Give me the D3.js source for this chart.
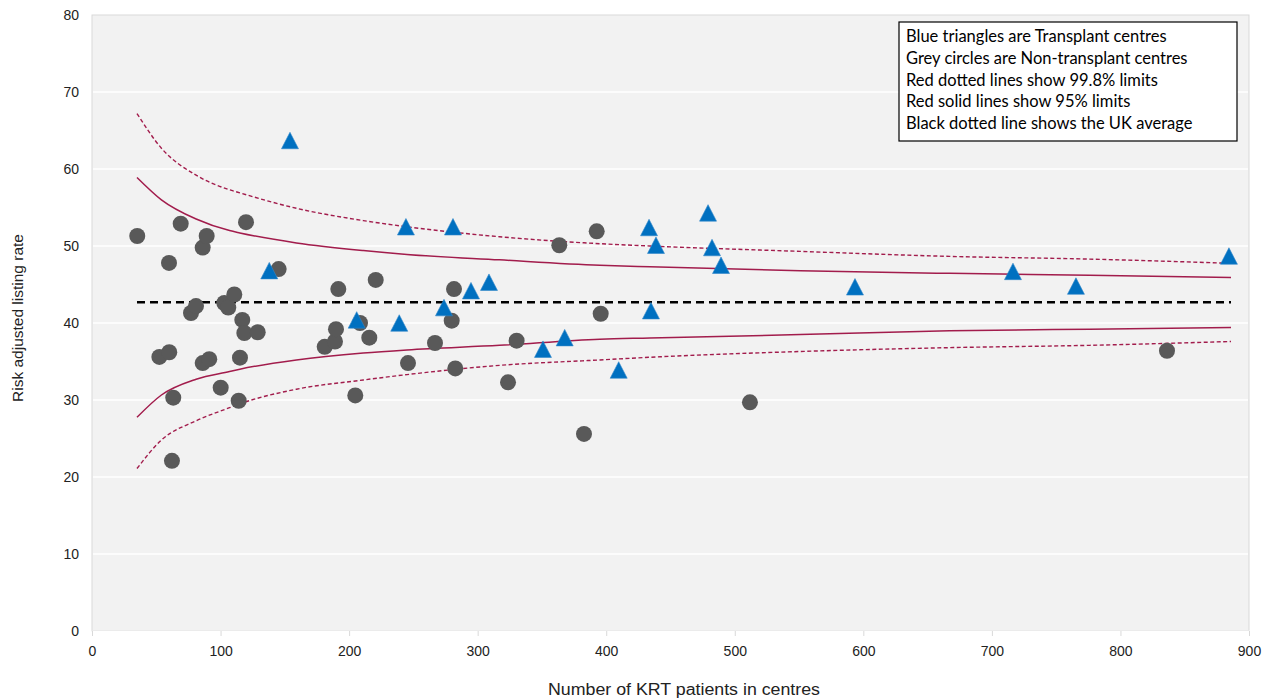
<!DOCTYPE html>
<html>
<head>
<meta charset="utf-8">
<script src="https://cdn.jsdelivr.net/npm/d3@7/dist/d3.min.js"></script>
<style>
  html, body { margin: 0; padding: 0; background: #ffffff; }
  svg { display: block; }
</style>
</head>
<body>
<svg id="chart" width="1271" height="699"></svg>
<script>
// Transplant centres (blue triangles): centre size and risk adjusted listing rate
const transplantN    = [137.9, 154.0, 205.9, 239.0, 244.2, 273.8, 280.8, 294.8, 308.8, 350.8, 367.7,
                        409.7, 433.3, 434.8, 438.7, 479.2, 482.3, 489.3, 593.5, 716.4, 765.4, 884.4];
const transplantRate = [46.8, 63.7, 40.4, 40.0, 52.5, 42.0, 52.5, 44.2, 45.3, 36.6, 38.1,
                        33.9, 52.4, 41.6, 50.1, 54.3, 49.8, 47.5, 44.7, 46.7, 44.8, 48.7];

// Non-transplant centres (grey circles)
const nonTransplantN    = [35.2, 52.4, 59.9, 60.1, 62.2, 63.2, 69.0, 77.0, 80.9, 86.1, 86.1, 89.2,
                           91.2, 100.1, 102.9, 106.0, 110.7, 114.1, 115.1, 116.9, 118.5, 119.8, 128.9,
                           145.2, 181.0, 189.0, 189.8, 191.6, 204.8, 208.5, 215.7, 220.7, 245.8,
                           266.8, 279.8, 281.6, 282.6, 323.6, 330.3, 363.5, 382.7, 392.6, 395.7,
                           511.8, 836.2];
const nonTransplantRate = [51.3, 35.6, 47.8, 36.2, 22.1, 30.3, 52.9, 41.3, 42.2, 49.8, 34.8, 51.3,
                           35.3, 31.6, 42.6, 42.0, 43.7, 29.9, 35.5, 40.4, 38.7, 53.1, 38.8,
                           47.0, 36.9, 37.6, 39.2, 44.4, 30.6, 40.0, 38.1, 45.6, 34.8,
                           37.4, 40.3, 44.4, 34.1, 32.3, 37.7, 50.1, 25.6, 51.9, 41.2,
                           29.7, 36.4];

// Funnel limits at selected centre sizes
const limitN    = [35, 54, 81, 107, 115, 159, 211, 245, 317, 395, 434, 551, 667, 776, 886];
const upper998  = [67.2, 62.7, 59.2, 57.3, 56.9, 54.9, 53.3, 52.5, 51.2, 50.3, 50.0, 49.3, 48.65, 48.3, 47.75];
const upper95   = [58.9, 56.0, 53.5, 52.0, 51.7, 50.4, 49.4, 48.9, 48.2, 47.5, 47.3, 46.8, 46.45, 46.2, 45.9];
const lower95   = [27.75, 30.65, 32.7, 33.7, 34.0, 35.2, 36.1, 36.5, 37.1, 37.9, 38.05, 38.5, 39.0, 39.2, 39.4];
const lower998  = [21.1, 24.8, 27.3, 29.0, 29.5, 31.4, 32.6, 33.3, 34.5, 35.2, 35.55, 36.3, 36.8, 37.1, 37.6];

// UK average listing rate, drawn across the range of centre sizes
const ukAverage = 42.7;
const averageSpan = [35, 886];

const xTicks = [0, 100, 200, 300, 400, 500, 600, 700, 800, 900];
const yTicks = [0, 10, 20, 30, 40, 50, 60, 70, 80];

const legendLines = [
  "Blue triangles are Transplant centres",
  "Grey circles are Non-transplant centres",
  "Red dotted lines show 99.8% limits",
  "Red solid lines show 95% limits",
  "Black dotted line shows the UK average"
];

const xTitle = "Number of KRT patients in centres";
const yTitle = "Risk adjusted listing rate";

// ---- layout ----
const plot = { left: 92, right: 1249, top: 15, bottom: 631 };
const svg = d3.select("#chart");

const x = d3.scaleLinear().domain([0, 900]).range([plot.left, plot.right]);
const y = d3.scaleLinear().domain([0, 80]).range([plot.bottom, plot.top]);

const maroon = "#a21c4c";
const tickFont = "'Liberation Sans', Arial, sans-serif";

// plot area background
svg.append("rect")
  .attr("x", plot.left).attr("y", plot.top)
  .attr("width", plot.right - plot.left).attr("height", plot.bottom - plot.top)
  .attr("fill", "#f2f2f2").attr("stroke", "#d9d9d9").attr("stroke-width", 1);

// horizontal gridlines
svg.append("g").selectAll("line")
  .data(yTicks.filter(d => d > 0 && d < 80))
  .join("line")
  .attr("x1", plot.left + 1).attr("x2", plot.right - 1)
  .attr("y1", d => y(d)).attr("y2", d => y(d))
  .attr("stroke", "#ffffff").attr("stroke-width", 1.5);

// x axis
const xAxis = svg.append("g")
  .attr("transform", `translate(0,${plot.bottom})`)
  .call(d3.axisBottom(x).tickValues(xTicks).tickSize(5).tickPadding(10).tickFormat(d3.format("d")));
xAxis.select(".domain").attr("stroke", "#ffffff").attr("stroke-width", 1.5);
xAxis.selectAll(".tick line").attr("stroke", "#d9d9d9");
xAxis.selectAll(".tick text")
  .attr("font-family", tickFont).attr("font-size", 14).attr("fill", "#222");

// y axis labels
const yAxis = svg.append("g")
  .attr("transform", `translate(${plot.left},0)`)
  .call(d3.axisLeft(y).tickValues(yTicks).tickSize(0).tickPadding(13).tickFormat(d3.format("d")));
yAxis.select(".domain").remove();
yAxis.selectAll(".tick text")
  .attr("font-family", tickFont).attr("font-size", 14).attr("fill", "#222");

// axis titles
svg.append("text")
  .attr("x", 684).attr("y", 695)
  .attr("text-anchor", "middle")
  .attr("font-family", tickFont).attr("font-size", 16).attr("fill", "#222")
  .attr("textLength", 272).attr("lengthAdjust", "spacingAndGlyphs")
  .text(xTitle);

svg.append("text")
  .attr("transform", `translate(23,${318}) rotate(-90)`)
  .attr("text-anchor", "middle")
  .attr("font-family", tickFont).attr("font-size", 15.5).attr("fill", "#222")
  .text(yTitle);

// funnel limit lines
const limitLine = vals => d3.line()
  .x((d, i) => x(limitN[i]))
  .y((d, i) => y(vals[i]))
  .curve(d3.curveMonotoneX)(vals);

const limits = svg.append("g").attr("fill", "none").attr("stroke", maroon);
[upper998, lower998].forEach(vals => {
  limits.append("path").attr("d", limitLine(vals))
    .attr("stroke-width", 1.4).attr("stroke-dasharray", "4,2.5");
});
[upper95, lower95].forEach(vals => {
  limits.append("path").attr("d", limitLine(vals))
    .attr("stroke-width", 1.5);
});

// UK average
svg.append("line")
  .attr("x1", x(averageSpan[0])).attr("x2", x(averageSpan[1]))
  .attr("y1", y(ukAverage)).attr("y2", y(ukAverage))
  .attr("stroke", "#000").attr("stroke-width", 2.6).attr("stroke-dasharray", "8,5");

// non-transplant centres
svg.append("g").selectAll("circle")
  .data(nonTransplantN.map((n, i) => [n, nonTransplantRate[i]]))
  .join("circle")
  .attr("cx", d => x(d[0])).attr("cy", d => y(d[1]))
  .attr("r", 8).attr("fill", "#595959");

// transplant centres
const triW = 17, triH = 16.5;
const triPath = `M0,${-triH / 2}L${triW / 2},${triH / 2}L${-triW / 2},${triH / 2}Z`;
svg.append("g").selectAll("path")
  .data(transplantN.map((n, i) => [n, transplantRate[i]]))
  .join("path")
  .attr("transform", d => `translate(${x(d[0])},${y(d[1])})`)
  .attr("d", triPath)
  .attr("fill", "#0070c0")
  .attr("stroke", "#2f86c9").attr("stroke-width", 0.6);

// legend
const legend = svg.append("g").attr("transform", "translate(899,22)");
legend.append("rect")
  .attr("width", 338).attr("height", 119)
  .attr("fill", "#ffffff").attr("stroke", "#000").attr("stroke-width", 1.2);
legend.selectAll("text")
  .data(legendLines)
  .join("text")
  .attr("x", 7).attr("y", (d, i) => 20 + i * 21.8)
  .attr("font-family", "Lato, 'Open Sans', sans-serif").attr("font-size", 16.5).attr("fill", "#000")
  .text(d => d);
</script>
</body>
</html>
